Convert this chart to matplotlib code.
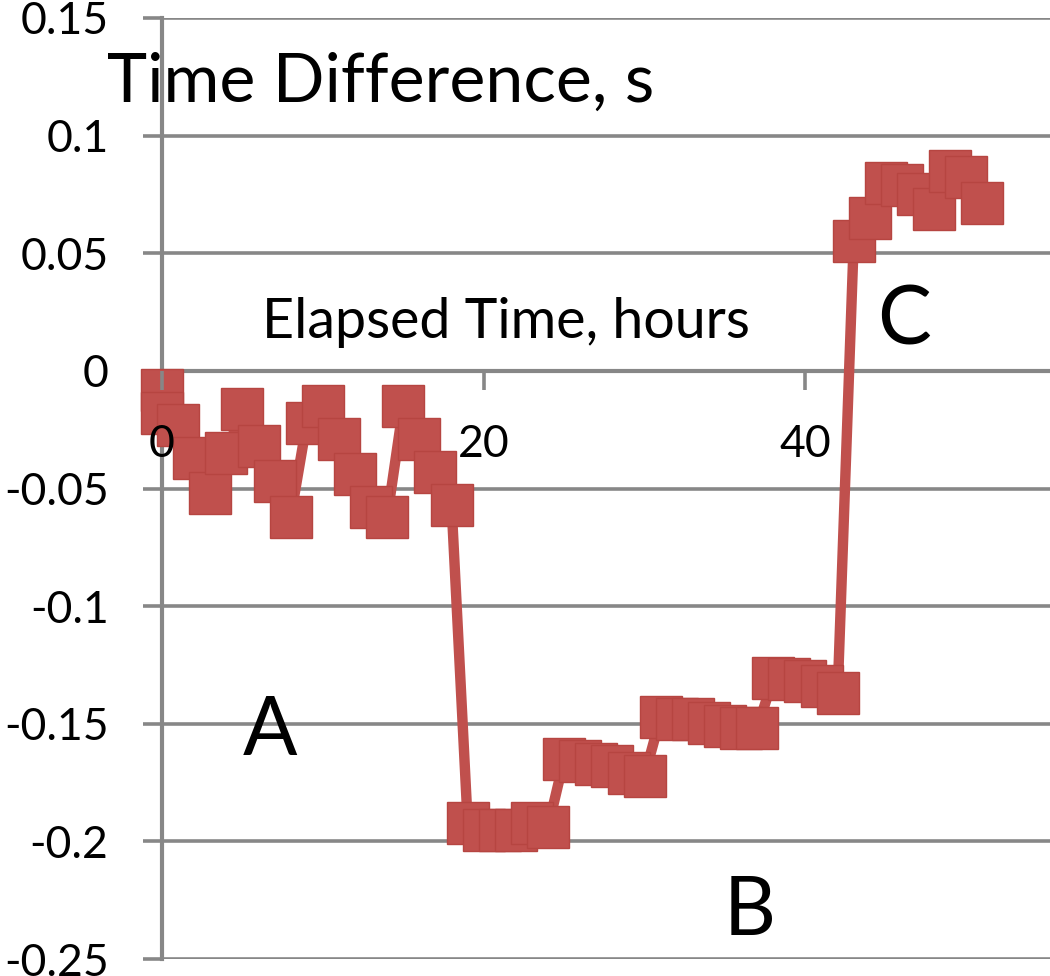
import matplotlib
matplotlib.use('Agg')
import matplotlib.pyplot as plt

plt.rcParams['font.family'] = ['Lato', 'DejaVu Sans']

# elapsed time (hours) and measured time difference (s)
hours = [0, 0, 1, 2, 3, 4, 5, 6, 7, 8, 9, 10, 11, 12, 13, 14, 15, 16, 17, 18,
         19, 20, 21, 22, 23, 24,
         25, 26, 27, 28, 29, 30,
         31, 32, 33, 34, 35, 36, 37,
         38, 39, 40, 41, 42,
         43, 44, 45, 46, 47, 48, 49, 50, 51]
diffs = [-0.008, -0.018, -0.023, -0.037, -0.052, -0.035, -0.016, -0.032, -0.047, -0.062,
         -0.022, -0.015, -0.029, -0.044, -0.058, -0.062, -0.015, -0.029, -0.043, -0.057,
         -0.192, -0.195, -0.195, -0.195, -0.192, -0.194,
         -0.165, -0.166, -0.167, -0.168, -0.171, -0.172,
         -0.147, -0.148, -0.148, -0.1495, -0.151, -0.152, -0.152,
         -0.1306, -0.131, -0.1317, -0.134, -0.137,
         0.0553, 0.0651, 0.080, 0.079, 0.075, 0.069, 0.085, 0.0825, 0.0713]

xticks = [0, 20, 40]
yticks = [0.15, 0.1, 0.05, 0, -0.05, -0.1, -0.15, -0.2, -0.25]
ytick_labels = ['0.15', '0.1', '0.05', '0', '-0.05', '-0.1', '-0.15', '-0.2', '-0.25']

notes = [('A', 6.7, -0.1634), ('B', 36.5, -0.240), ('C', 46.15, 0.011)]

red = '#C0504D'
gray = '#878787'

fig = plt.figure(figsize=(10.5, 9.76), dpi=100)
ax = fig.add_axes([162 / 1050, 17 / 976, 1 - 162 / 1050, 941 / 976])

ax.plot(hours, diffs, color=red, lw=7.5, marker='s', markersize=30,
        markerfacecolor=red, markeredgecolor='#B64541', markeredgewidth=1,
        zorder=2, clip_on=False)

ax.set_xlim(0, 55.2)
ax.set_ylim(-0.25, 0.15)

# grid under the markers, x tick labels over them
ax.set_axisbelow(True)
ax.xaxis.set_zorder(3)
for s in ['top', 'right']:
    ax.spines[s].set_visible(False)
ax.spines['bottom'].set_position(('data', 0))
for s in ['left', 'bottom']:
    ax.spines[s].set_color(gray)
    ax.spines[s].set_linewidth(3)
    ax.spines[s].set_zorder(0.6)

ax.yaxis.grid(True, color=gray, lw=2.6)
ax.set_yticks(yticks)
ax.set_yticklabels(ytick_labels)
ax.set_xticks(xticks)
ax.tick_params(axis='both', direction='out', length=13.5, width=2.6, color=gray,
               labelsize=32, pad=25)

ax.text(-3.42, 0.1143, 'Time Difference, s', fontsize=49, ha='left', va='baseline',
        clip_on=False, zorder=4)
ax.text(21.4, 0.0139, 'Elapsed Time, hours', fontsize=40, ha='center', va='baseline',
        zorder=4)
for lab, x, y in notes:
    ax.text(x, y, lab, fontsize=58, ha='center', va='baseline', zorder=4)

fig.savefig('out.png', dpi=100)
